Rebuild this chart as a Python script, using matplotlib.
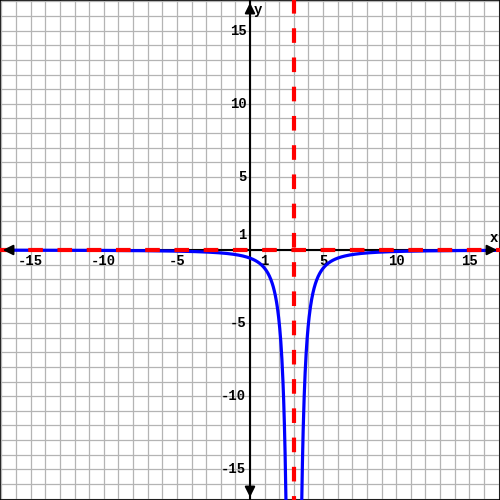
import numpy as np
import matplotlib
matplotlib.use("Agg")
import matplotlib.pyplot as plt

# Chart content
x_ticks = [-15, -10, -5, 1, 5, 10, 15]
y_ticks = [15, 10, 5, 1, -5, -10, -15]
vertical_asymptote = 3
horizontal_asymptote = 0
coef = -5  # y = coef / (x - 3)^2
lim = 17.1

plt.rcParams['lines.scale_dashes'] = False
fig = plt.figure(figsize=(5, 5), dpi=100)
ax = fig.add_axes([0, 0, 1, 1])
ax.set_xlim(-lim, lim)
ax.set_ylim(-lim, lim)

# one data unit in points
unit_pt = 500 / (2 * lim) * 72 / 100

# grid
for g in range(-17, 18):
    ax.axvline(g, color='#b4b4b4', lw=0.9, zorder=0)
    ax.axhline(g, color='#b4b4b4', lw=0.9, zorder=0)

# axes
ax.axhline(0, color='black', lw=1.5, zorder=2)
ax.axvline(0, color='black', lw=1.5, zorder=2)
ap = dict(arrowstyle='-|>,head_length=0.6,head_width=0.3', color='black', lw=1.5)
ax.annotate('', xy=(lim, 0), xytext=(lim - 1, 0), arrowprops=ap, zorder=5)
ax.annotate('', xy=(-lim, 0), xytext=(-lim + 1, 0), arrowprops=ap, zorder=5)
ax.annotate('', xy=(0, lim), xytext=(0, lim - 1), arrowprops=ap, zorder=5)
ax.annotate('', xy=(0, -lim), xytext=(0, -lim + 1), arrowprops=ap, zorder=5)

font = dict(family='Liberation Mono', weight='bold', fontsize=10)
for t in x_ticks:
    ax.text(t, -0.25, str(t), ha='center', va='top', **font)
for t in y_ticks:
    ax.text(-0.25, t, str(t), ha='right', va='center', **font)
ax.text(16.7, 0.8, 'x', ha='center', va='center', **font)
ax.text(0.55, 16.45, 'y', ha='center', va='center', **font)

# function
for seg in [np.linspace(-lim, vertical_asymptote - 0.5, 800),
            np.linspace(vertical_asymptote + 0.5, lim, 800)]:
    y = coef / (seg - vertical_asymptote) ** 2
    ax.plot(seg, y, color='#0000ff', lw=2.3, zorder=3)

# asymptotes (dashes one unit long, centred on odd integers)
ax.plot([-17.5, 17.5], [horizontal_asymptote] * 2, color='#ff0000', lw=3,
        dashes=(unit_pt, unit_pt), zorder=4)
ax.plot([vertical_asymptote] * 2, [17.5, -17.5], color='#ff0000', lw=3,
        dashes=(unit_pt, unit_pt), zorder=4)

ax.set_xticks([]); ax.set_yticks([])
for s in ax.spines.values():
    s.set_linewidth(1.2)
    s.set_color('black')

fig.savefig('out.png', dpi=100)
